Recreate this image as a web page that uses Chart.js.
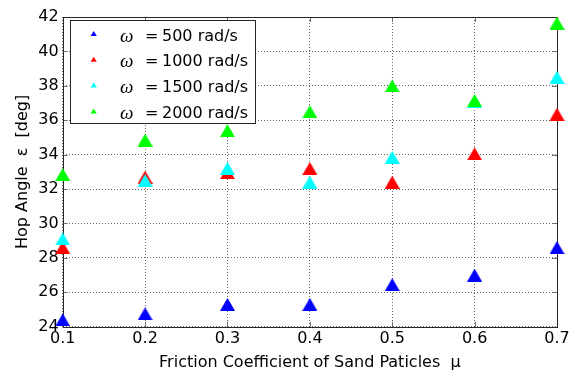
<!DOCTYPE html>
<html>
<head>
<meta charset="utf-8">
<script src="https://cdn.jsdelivr.net/npm/chart.js@4.4.1/dist/chart.umd.min.js"></script>
<style>
  html, body { margin: 0; padding: 0; background: #fff; }
</style>
</head>
<body>
<canvas id="hop_chart" width="577" height="373"></canvas>
<script>
// friction coefficient of the sand (x) and hop angle in deg (y), one list per speed
const friction = [0.1, 0.2, 0.3, 0.4, 0.5, 0.6, 0.7];
const hop500 = [24.4, 24.75, 25.3, 25.3, 26.45, 27.0, 28.6];
const hop1000 = [28.6, 32.7, 32.95, 33.2, 32.4, 34.05, 36.35];
const hop1500 = [29.1, 32.5, 33.2, 32.4, 33.85, 37.1, 38.5];
const hop2000 = [32.85, 34.85, 35.4, 36.5, 38.0, 37.15, 41.65];
const speedLabels = ['500 rad/s', '1000 rad/s', '1500 rad/s', '2000 rad/s'];
const yTicks = [24, 26, 28, 30, 32, 34, 36, 38, 40, 42];

const colors = ['#0000ff', '#ff0000', '#00ffff', '#00ff00'];

// matlab style '^' marker, centred on its box
function triMarker(color) {
    const c = document.createElement('canvas');
    c.width = 15;
    c.height = 13;
    const g = c.getContext('2d');
    g.fillStyle = color;
    g.beginPath();
    g.moveTo(7.5, 0);
    g.lineTo(15, 13);
    g.lineTo(0, 13);
    g.closePath();
    g.fill();
    return c;
}

function makeSet(i, values) {
    return {
        label: speedLabels[i],
        data: friction.map((f, k) => ({ x: f, y: values[k] })),
        pointStyle: triMarker(colors[i]),
        backgroundColor: colors[i],
        borderColor: colors[i],
        order: 3 - i,   // later series drawn on top
        clip: false
    };
}

// box, inward ticks and the legend inside the axes
const matlabAxes = {
    id: 'matlabAxes',
    beforeDatasetsDraw(chart) {
        const { ctx, chartArea: a, scales } = chart;
        ctx.save();
        ctx.strokeStyle = '#707070';
        ctx.lineWidth = 1;
        ctx.beginPath();
        friction.forEach(v => {
            const px = Math.round(scales.x.getPixelForValue(v)) + 0.5;
            ctx.moveTo(px, a.bottom); ctx.lineTo(px, a.bottom - 5);
            ctx.moveTo(px, a.top); ctx.lineTo(px, a.top + 5);
        });
        yTicks.forEach(v => {
            const py = Math.round(scales.y.getPixelForValue(v)) + 0.5;
            ctx.moveTo(a.left, py); ctx.lineTo(a.left + 5, py);
            ctx.moveTo(a.right, py); ctx.lineTo(a.right - 5, py);
        });
        ctx.stroke();
        ctx.strokeStyle = '#262626';
        ctx.strokeRect(Math.round(a.left) + 0.5, Math.round(a.top) + 0.5,
            Math.round(a.right - a.left), Math.round(a.bottom - a.top));
        ctx.restore();
    },
    afterDraw(chart) {
        const ctx = chart.ctx;
        const bx = 70.5, by = 20.5, bw = 185, bh = 103;
        ctx.save();
        ctx.fillStyle = '#fff';
        ctx.strokeStyle = '#262626';
        ctx.lineWidth = 1;
        ctx.fillRect(bx, by, bw, bh);
        ctx.strokeRect(bx, by, bw, bh);
        ctx.textBaseline = 'middle';
        speedLabels.forEach((lab, i) => {
            const cy = 36.5 + i * 25.8;
            ctx.fillStyle = colors[i];
            ctx.beginPath();
            ctx.moveTo(93.7, cy - 5.5);
            ctx.lineTo(96.8, cy - 0.5);
            ctx.lineTo(90.6, cy - 0.5);
            ctx.closePath();
            ctx.fill();
            ctx.fillStyle = '#000';
            ctx.font = 'italic 19px "Liberation Serif"';
            ctx.fillText('\u03c9', 120, cy);
            ctx.font = '16px "DejaVu Sans"';
            ctx.fillText('=', 145, cy);
            ctx.fillText(lab, 162, cy);
        });
        ctx.restore();
    }
};

Chart.defaults.font.family = '"DejaVu Sans", sans-serif';
Chart.defaults.font.size = 16;
Chart.defaults.color = '#000';

const ctx = document.getElementById('hop_chart').getContext('2d');
const hopChart = new Chart(ctx, {
    type: 'scatter',
    data: {
        datasets: [
            makeSet(0, hop500),
            makeSet(1, hop1000),
            makeSet(2, hop1500),
            makeSet(3, hop2000)
        ]
    },
    options: {
        responsive: false,
        animation: false,
        layout: { padding: { top: 17, right: 20, left: 0, bottom: 0 } },
        plugins: {
            legend: { display: false },
            tooltip: { enabled: false }
        },
        scales: {
            x: {
                type: 'linear',
                min: 0.1,
                max: 0.7,
                afterBuildTicks: s => { s.ticks = friction.map(v => ({ value: v })); },
                afterFit: s => { s.height = 46.3; },
                ticks: { padding: 3, callback: v => v.toFixed(1) },
                grid: { color: 'rgba(0,0,0,0.6)', drawTicks: false },
                border: { display: false, dash: [1, 2] },
                title: {
                    display: true,
                    text: 'Friction Coefficient of Sand Paticles  \u03bc',
                    padding: { top: 0, bottom: 1 }
                }
            },
            y: {
                min: 24,
                max: 42,
                afterBuildTicks: s => { s.ticks = yTicks.map(v => ({ value: v })); },
                afterFit: s => { s.width = 62.7; },
                ticks: { padding: 4 },
                grid: { color: 'rgba(0,0,0,0.6)', drawTicks: false },
                border: { display: false, dash: [1, 2] },
                title: {
                    display: true,
                    text: 'Hop Angle  \u03b5  [deg]',
                    padding: { top: 13, bottom: 0 }
                }
            }
        }
    },
    plugins: [matlabAxes]
});
</script>
</body>
</html>
